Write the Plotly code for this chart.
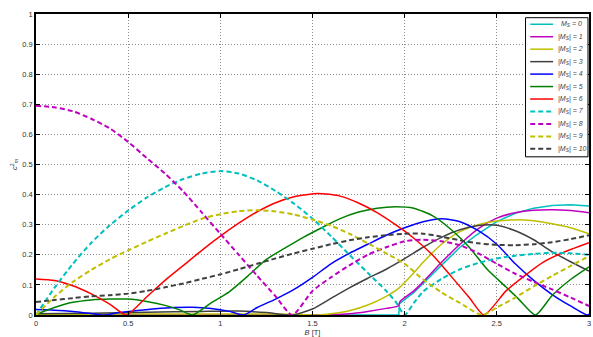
import plotly.graph_objects as go

# ---------------- data ----------------
B_ms0 = [0, 1.0, 1.5, 1.968, 1.972, 2.05, 2.1, 2.2, 2.3, 2.4, 2.5, 2.6, 2.7, 2.8, 2.9, 3.0]
c_ms0 = [0, 0, 0, 0, 0.038, 0.075, 0.105, 0.165, 0.225, 0.27, 0.31, 0.338, 0.355, 0.364, 0.366, 0.362]

B_ms1 = [0, 1.0, 1.6, 1.7, 1.8, 1.9, 1.965, 1.975, 2.05, 2.1, 2.2, 2.3, 2.4, 2.5, 2.6, 2.7, 2.8, 2.9, 3.0]
c_ms1 = [0, 0, 0.001, 0.004, 0.012, 0.022, 0.03, 0.045, 0.08, 0.11, 0.175, 0.235, 0.287, 0.322, 0.34, 0.348, 0.35, 0.347, 0.34]

B_ms2 = [0, 0.5, 1.0, 1.3, 1.45, 1.535, 1.6, 1.7, 1.8, 1.9, 1.97, 2.05, 2.1, 2.2, 2.3, 2.4, 2.5, 2.6, 2.7, 2.8, 2.9, 3.0]
c_ms2 = [0.002, 0.003, 0.003, 0.003, 0.001, 0, 0.004, 0.014, 0.033, 0.062, 0.09, 0.14, 0.175, 0.235, 0.277, 0.3, 0.312, 0.316, 0.313, 0.303, 0.29, 0.27]

B_ms3 = [0, 0.3, 0.6, 0.9, 1.1, 1.25, 1.39, 1.5, 1.6, 1.7, 1.8, 1.9, 2.0, 2.1, 2.2, 2.3, 2.4, 2.5, 2.6, 2.7, 2.8, 2.9, 3.0]
c_ms3 = [0.004, 0.006, 0.009, 0.012, 0.013, 0.008, 0, 0.02, 0.055, 0.09, 0.122, 0.152, 0.187, 0.225, 0.258, 0.283, 0.297, 0.298, 0.28, 0.25, 0.21, 0.177, 0.146]

B_ms4 = [0, 0.1, 0.2, 0.3, 0.365, 0.45, 0.55, 0.65, 0.75, 0.85, 0.95, 1.05, 1.127, 1.2, 1.3, 1.4, 1.5, 1.6, 1.7, 1.8, 1.9, 2.0, 2.1, 2.2, 2.3, 2.4, 2.5, 2.6, 2.7, 2.8, 2.9, 2.99, 3.0]
c_ms4 = [0.018, 0.016, 0.012, 0.005, 0, 0.008, 0.015, 0.021, 0.025, 0.026, 0.022, 0.012, 0, 0.025, 0.053, 0.085, 0.125, 0.17, 0.205, 0.235, 0.265, 0.29, 0.31, 0.32, 0.31, 0.28, 0.235, 0.17, 0.115, 0.068, 0.03, 0, 0.003]

B_ms5 = [0, 0.1, 0.2, 0.3, 0.4, 0.5, 0.6, 0.7, 0.78, 0.85, 0.95, 1.05, 1.15, 1.25, 1.35, 1.45, 1.55, 1.65, 1.75, 1.85, 1.95, 2.05, 2.15, 2.25, 2.35, 2.45, 2.55, 2.62, 2.71, 2.8, 2.9, 3.0]
c_ms5 = [0.002, 0.025, 0.042, 0.05, 0.053, 0.053, 0.045, 0.032, 0.017, 0, 0.04, 0.078, 0.13, 0.185, 0.222, 0.258, 0.29, 0.32, 0.342, 0.355, 0.36, 0.355, 0.33, 0.285, 0.225, 0.15, 0.093, 0.052, 0, 0.065, 0.118, 0.16]

B_ms6 = [0, 0.1, 0.2, 0.3, 0.4, 0.49, 0.6, 0.7, 0.8, 0.9, 1.0, 1.1, 1.2, 1.3, 1.4, 1.53, 1.65, 1.75, 1.85, 1.95, 2.05, 2.15, 2.25, 2.35, 2.43, 2.55, 2.65, 2.75, 2.85, 3.0]
c_ms6 = [0.12, 0.115, 0.097, 0.07, 0.036, 0, 0.06, 0.115, 0.165, 0.215, 0.262, 0.305, 0.343, 0.373, 0.393, 0.404, 0.395, 0.372, 0.34, 0.3, 0.255, 0.2, 0.13, 0.058, 0, 0.08, 0.13, 0.175, 0.205, 0.24]

B_ms7 = [0, 0.1, 0.2, 0.3, 0.4, 0.5, 0.6, 0.7, 0.8, 0.9, 1.0, 1.1, 1.2, 1.3, 1.4, 1.5, 1.6, 1.7, 1.8, 1.9, 1.95, 2.0, 2.05, 2.1, 2.2, 2.3, 2.4, 2.5, 2.6, 2.7, 2.8, 2.9, 3.0]
c_ms7 = [0.0, 0.09, 0.17, 0.24, 0.298, 0.347, 0.39, 0.425, 0.452, 0.47, 0.478, 0.47, 0.447, 0.412, 0.37, 0.32, 0.262, 0.2, 0.14, 0.08, 0.045, 0, 0.04, 0.078, 0.12, 0.152, 0.173, 0.188, 0.197, 0.203, 0.207, 0.205, 0.2]

B_ms8 = [0, 0.1, 0.2, 0.3, 0.4, 0.5, 0.6, 0.7, 0.8, 0.9, 1.0, 1.1, 1.2, 1.3, 1.39, 1.5, 1.6, 1.7, 1.8, 1.9, 2.0, 2.1, 2.2, 2.3, 2.4, 2.5, 2.6, 2.7, 2.8, 2.9, 3.0]
c_ms8 = [0.695, 0.69, 0.677, 0.652, 0.62, 0.575, 0.522, 0.47, 0.41, 0.34, 0.27, 0.2, 0.13, 0.062, 0, 0.08, 0.125, 0.165, 0.2, 0.225, 0.245, 0.25, 0.245, 0.232, 0.205, 0.17, 0.137, 0.11, 0.085, 0.058, 0.03]

B_ms9 = [0, 0.1, 0.2, 0.3, 0.4, 0.5, 0.6, 0.7, 0.8, 0.9, 1.0, 1.1, 1.2, 1.3, 1.4, 1.5, 1.6, 1.7, 1.8, 1.9, 2.0, 2.1, 2.2, 2.3, 2.42, 2.5, 2.6, 2.7, 2.8, 2.9, 3.0]
c_ms9 = [0, 0.06, 0.11, 0.15, 0.185, 0.215, 0.243, 0.27, 0.296, 0.32, 0.335, 0.345, 0.348, 0.344, 0.334, 0.317, 0.297, 0.27, 0.238, 0.205, 0.17, 0.118, 0.075, 0.04, 0, 0.025, 0.058, 0.095, 0.13, 0.163, 0.195]

B_ms10 = [0, 0.1, 0.2, 0.3, 0.4, 0.5, 0.6, 0.7, 0.8, 0.9, 1.0, 1.1, 1.2, 1.3, 1.4, 1.5, 1.6, 1.7, 1.8, 1.9, 2.0, 2.1, 2.2, 2.3, 2.4, 2.5, 2.6, 2.7, 2.8, 2.9, 3.0]
c_ms10 = [0.043, 0.05, 0.056, 0.062, 0.066, 0.071, 0.08, 0.092, 0.105, 0.12, 0.135, 0.152, 0.17, 0.188, 0.205, 0.22, 0.235, 0.248, 0.258, 0.265, 0.27, 0.27, 0.26, 0.248, 0.238, 0.233, 0.232, 0.235, 0.242, 0.252, 0.265]

series_B = [B_ms0, B_ms1, B_ms2, B_ms3, B_ms4, B_ms5, B_ms6, B_ms7, B_ms8, B_ms9, B_ms10]
series_c = [c_ms0, c_ms1, c_ms2, c_ms3, c_ms4, c_ms5, c_ms6, c_ms7, c_ms8, c_ms9, c_ms10]
labels = ["<i>M<sub>S</sub> = 0</i>"] + [f"<i>|M<sub>S</sub>| = {k}</i>" for k in range(1, 11)]

x_ticks = [0, 0.5, 1, 1.5, 2, 2.5, 3]
x_ticklabels = ["0", "0.5", "1", "1.5", "2", "2.5", "3"]
y_ticks = [0, 0.1, 0.2, 0.3, 0.4, 0.5, 0.6, 0.7, 0.8, 0.9, 1]
y_ticklabels = ["0", "0.1", "0.2", "0.3", "0.4", "0.5", "0.6", "0.7", "0.8", "0.9", "1"]

# ---------------- styles ----------------
colors = ["#00bfbf", "#bf00bf", "#bfbf00", "#404040", "#0000ff", "#008000", "#ff0000",
          "#00bfbf", "#bf00bf", "#bfbf00", "#404040"]
dashes = ["solid"] * 7 + ["5px,3px"] * 4
widths = [1.5] * 7 + [2.0] * 4
shapes_kind = ["linear"] + ["spline"] * 10

fig = go.Figure()
for Bv, cv, col, dsh, w, lab, shp in zip(series_B, series_c, colors, dashes, widths, labels, shapes_kind):
    fig.add_trace(go.Scatter(x=Bv, y=cv, mode="lines", name=lab,
                             line=dict(color=col, dash=dsh, width=w, shape=shp, smoothing=0.6),
                             showlegend=False))

# ---------------- manual legend (compact, like the reference) ----------------
W, H = 593, 337
ml, mr, mt, mb = 36, 2, 14, 21
pw, ph = W - ml - mr, H - mt - mb

def px2x(px):
    return (px - ml) / pw

def py2y(py):
    return (H - mb - py) / ph

shapes = [dict(type="rect", xref="paper", yref="paper",
               x0=px2x(527.3), x1=px2x(590), y0=py2y(157.3), y1=py2y(17.7),
               line=dict(color="black", width=1), fillcolor="white", layer="above")]
annotations = []
for i, (col, dsh, w, lab) in enumerate(zip(colors, dashes, widths, labels)):
    yc = py2y(24.3 + 12.5 * i)
    shapes.append(dict(type="line", xref="paper", yref="paper",
                       x0=px2x(532), x1=px2x(555), y0=yc, y1=yc,
                       line=dict(color=col, dash=dsh, width=w), layer="above"))
    annotations.append(dict(xref="paper", yref="paper", x=px2x(560.5 if i == 0 else 557.5), y=yc,
                            xanchor="left", yanchor="middle", showarrow=False, text=lab,
                            font=dict(size=7, color="#444444", family="Liberation Sans, Arial")))

fig.update_layout(
    width=W, height=H,
    margin=dict(l=ml, r=mr, t=mt, b=mb, pad=0),
    paper_bgcolor="white", plot_bgcolor="white",
    font=dict(family="Liberation Sans, Arial", size=8, color="#333333"),
    shapes=shapes, annotations=annotations,
    showlegend=False,
)
fig.update_xaxes(range=[0, 3], tickvals=x_ticks, ticktext=x_ticklabels,
                 showline=True, linecolor="black", linewidth=1.5, mirror="ticks",
                 ticks="inside", ticklen=4, tickcolor="black", tickwidth=1,
                 showgrid=True, gridcolor="#8c8c8c", griddash="1px,2px", gridwidth=1,
                 zeroline=False, tickfont=dict(size=7.5, color="#333333"),
                 title=dict(text="<i>B</i> [T]", font=dict(size=7.5, color="#333333"), standoff=2))
fig.update_yaxes(range=[0, 1], tickvals=y_ticks, ticktext=y_ticklabels,
                 showline=True, linecolor="black", linewidth=1.5, mirror="ticks",
                 ticks="inside", ticklen=4, tickcolor="black", tickwidth=1,
                 showgrid=True, gridcolor="#8c8c8c", griddash="1px,2px", gridwidth=1,
                 zeroline=False, tickfont=dict(size=7.5, color="#333333"),
                 title=dict(text="<i>c</i><sup>2</sup><sub><i>m</i></sub>", font=dict(size=7.5, color="#333333"), standoff=4))

fig.write_html("out.html")
